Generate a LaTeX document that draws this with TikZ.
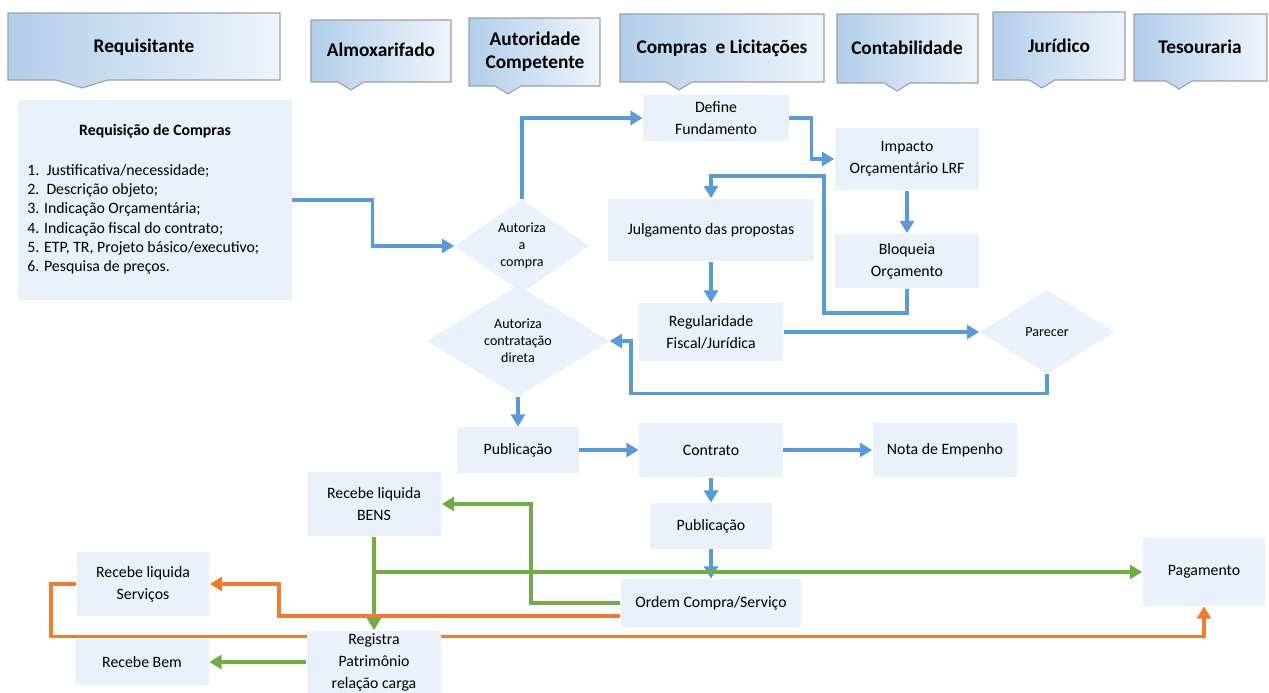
\documentclass[tikz,border=0pt]{standalone}
\usepackage{fontspec}
\setmainfont{Carlito}
\usetikzlibrary{shapes.geometric,arrows.meta}

\definecolor{boxfill}{RGB}{234,241,250}
\definecolor{hdrdark}{RGB}{178,205,234}
\definecolor{hdrlight}{RGB}{238,244,251}
\definecolor{flowblue}{RGB}{91,155,213}
\definecolor{flowgreen}{RGB}{112,173,71}
\definecolor{floworange}{RGB}{237,125,49}

\pgfdeclarelayer{back}
\pgfsetlayers{back,main}

\begin{document}
\begin{tikzpicture}[x=0.02cm,y=-0.02cm,
  hdr/.style={draw=gray!75,line width=0.6pt,left color=hdrdark,right color=hdrlight},
  hdrtext/.style={font=\fontsize{11}{13}\selectfont\bfseries,align=center},
  proc/.style={fill=boxfill,inner sep=0pt,align=center,font=\fontsize{9}{12.5}\selectfont},
  dec/.style={diamond,fill=boxfill,inner sep=0pt,align=center,font=\fontsize{8}{9.6}\selectfont},
  bl/.style={draw=flowblue,line width=2pt,-{Triangle[length=7pt,width=8pt]}},
  gr/.style={bl,draw=flowgreen},
  org/.style={bl,draw=floworange}]

\useasboundingbox (0,0) rectangle (1269,693);

\path[hdr]% Requisitante
(8,13)--(280,13)--(280,80)--(108,80)--(82,88)--(56,80)--(8,80)--cycle;
\path[hdr]% Almoxarifado
(311,20)--(451,20)--(451,82)--(364,82)--(351,90)--(338,82)--(311,82)--cycle;
\path[hdr]% Autoridade
(469,18)--(600,18)--(600,86)--(521,86)--(508,94)--(495,86)--(469,86)--cycle;
\path[hdr]% Compras
(620,14)--(824,14)--(824,82)--(692,82)--(679,90)--(666,82)--(620,82)--cycle;
\path[hdr]% Contabilidade
(837,14)--(978,14)--(978,83)--(910,83)--(897,91)--(884,83)--(837,83)--cycle;
\path[hdr]% Juridico
(993,12)--(1125,12)--(1125,80)--(1055,80)--(1042,88)--(1029,80)--(993,80)--cycle;
\path[hdr]% Tesouraria
(1134,14)--(1267,14)--(1267,81)--(1192,81)--(1179,89)--(1166,81)--(1134,81)--cycle;

\node[hdrtext] (hReq)  at (144,47)  {Requisitante};
\node[hdrtext] (hAlm)  at (381,50)  {Almoxarifado};
\node[hdrtext] (hAut)  at (535,52)  {Autoridade\\Competente};
\node[hdrtext] (hComp) at (722,48)  {Compras\ \ e Licitações};
\node[hdrtext] (hCont) at (907,48)  {Contabilidade};
\node[hdrtext] (hJur)  at (1059,46) {Jurídico};
\node[hdrtext] (hTes)  at (1200,47) {Tesouraria};

% requisicao
\node[proc,minimum width=5.48cm,minimum height=4cm] (req) at (155,200) {};
\node[font=\fontsize{9}{11}\selectfont\bfseries] (reqtitle) at (155,131) {Requisição de Compras};
\node[anchor=north west,align=left,inner sep=0pt,font=\fontsize{9}{11}\selectfont] (reqlist) at (27,164)
  {1.\ \ Justificativa/necessidade;\\
   2.\ \ Descrição objeto;\\
   3. Indicação Orçamentária;\\
   4. Indicação fiscal do contrato;\\
   5. ETP, TR, Projeto básico/executivo;\\
   6. Pesquisa de preços.};

% decisoes
\node[dec,minimum width=2.7cm,minimum height=1.74cm]  (aut) at (522,246)  {Autoriza\\a\\compra};
\node[dec,minimum width=3.66cm,minimum height=1.74cm] (dir) at (518,341)  {Autoriza\\contratação\\direta};
\node[dec,minimum width=2.7cm,minimum height=1.68cm]  (par) at (1047,332) {Parecer};

% caixas
\node[proc,minimum width=2.92cm,minimum height=0.94cm] (def)  at (716,118)  {Define\\Fundamento};
\node[proc,minimum width=2.9cm,minimum height=1.26cm]  (imp)  at (907,159)  {Impacto\\Orçamentário LRF};
\node[proc,minimum width=4.12cm,minimum height=1.26cm] (jul)  at (711,230)  {Julgamento das propostas};
\node[proc,minimum width=2.9cm,minimum height=1.1cm]   (blo)  at (907,261)  {Bloqueia\\Orçamento};
\node[proc,minimum width=2.9cm,minimum height=1.16cm]  (reg)  at (711,332)  {Regularidade\\Fiscal/Jurídica};
\node[proc,minimum width=2.44cm,minimum height=0.92cm] (pub1) at (518,450)  {Publicação};
\node[proc,minimum width=2.88cm,minimum height=1.1cm]  (con)  at (711,450)  {Contrato};
\node[proc,minimum width=2.9cm,minimum height=1.1cm]   (nota) at (945,450)  {Nota de Empenho};
\node[proc,minimum width=2.44cm,minimum height=0.92cm] (pub2) at (711,526)  {Publicação};
\node[proc,minimum width=3.62cm,minimum height=0.96cm] (ord)  at (711,603)  {Ordem Compra/Serviço};
\node[proc,minimum width=2.46cm,minimum height=1.36cm] (pag)  at (1204,572) {Pagamento};
\node[proc,minimum width=2.7cm,minimum height=1.3cm]   (bens) at (374,504)  {Recebe liquida\\BENS};
\node[proc,minimum width=2.66cm,minimum height=1.3cm]  (serv) at (143,584)  {Recebe liquida\\Serviços};
\node[proc,minimum width=2.7cm,minimum height=1.26cm]  (regp) at (374,662)  {Registra\\Patrimônio\\relação carga};
\node[proc,minimum width=2.68cm,minimum height=0.92cm] (bem)  at (142,662)  {Recebe Bem};

\begin{pgfonlayer}{back}
% fluxo azul
\draw[bl] (req.east) -- ++(80,0) |- (aut.west);
\draw[bl] (aut.north) |- (def.west);
\draw[bl] (def.east) -- ++(22,0) |- (imp.west);
\draw[bl] (imp.south) -- (blo.north);
\draw[bl] (blo.south) -- ++(0,24) -| ++(-83,-137) -| (jul.north);
\draw[bl] (jul.south) -- (reg.north);
\draw[bl] (reg.east) -- (par.west);
\draw[bl] (par.south) -- ++(0,19) -| ([xshift=0.42cm]dir.east) -- (dir.east);
\draw[bl] (dir.south) -- (pub1.north);
\draw[bl] (pub1.east) -- (con.west);
\draw[bl] (con.east) -- (nota.west);
\draw[bl] (con.south) -- (pub2.north);
\draw[bl] (pub2.south) -- (ord.north);
% fluxo verde
\draw[gr] (ord.west) -- ++(-89,0) |- (bens.east);
\draw[gr] (bens.south) -- (regp.north);
\draw[gr] (bens.south |- pag.west) -- (pag.west);
\draw[gr] (regp.west) -- (bem.east);
% fluxo laranja
\draw[org] ([yshift=-0.26cm]ord.west) -- ++(-341,0) |- (serv.east);
\coordinate (botC) at ([yshift=-0.6cm]pag.south);
\draw[org] (serv.west) -- ++(-25,0) |- (botC) -- (pag.south);
\end{pgfonlayer}

\end{tikzpicture}
\end{document}
